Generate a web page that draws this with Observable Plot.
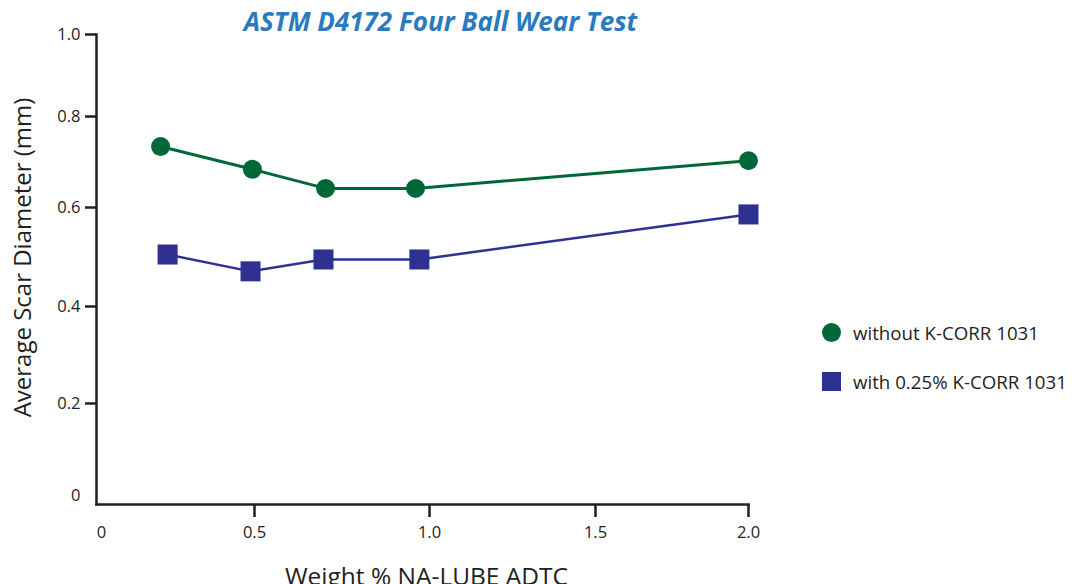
<!DOCTYPE html>
<html>
<head>
<meta charset="utf-8">
<script src="https://cdn.jsdelivr.net/npm/d3@7"></script>
<script src="https://cdn.jsdelivr.net/npm/@observablehq/plot@0.6"></script>
<style>
  html, body { margin: 0; padding: 0; background: #fff; }
  #wrap { position: relative; width: 1077px; height: 584px; overflow: hidden; font-family: "Open Sans", sans-serif; }
  #legend { position: absolute; left: 822px; top: 319px; color: #231f20; font-size: 18.7px; }
  .item { display: flex; align-items: center; height: 26px; margin-bottom: 23px; }
  .sw { width: 19px; height: 19px; margin-right: 12px; flex: none; }
</style>
</head>
<body>
<div id="wrap"></div>
<script>
const title = "ASTM D4172 Four Ball Wear Test";
const xLabel = "Weight % NA-LUBE ADTC";
const yLabel = "Average Scar Diameter (mm)";
const seriesNames = ["without K-CORR 1031", "with 0.25% K-CORR 1031"];
const seriesColors = ["#006838", "#2e3192"];

const xWithout = [0.193, 0.493, 0.703, 0.960, 2.0];
const yWithout = [0.734, 0.684, 0.642, 0.642, 0.703];
const xWith = [0.216, 0.487, 0.697, 0.971, 2.0];
const yWith = [0.505, 0.471, 0.495, 0.495, 0.586];

const xTicks = [0, 0.5, 1.0, 1.5, 2.0];
const yTicks = [0, 0.2, 0.4, 0.6, 0.8, 1.0];
const fmt = d => Math.abs(d) < 1e-9 ? "0" : d.toFixed(1);

const without = xWithout.map((x, i) => ({x, y: yWithout[i]}));
const withK = xWith.map((x, i) => ({x, y: yWith[i]}));

const ink = "#231f20";

// The printed axes are slightly uneven; these piecewise maps reproduce the tick spacing.
const xWarp = d3.scaleLinear().domain(xTicks).range([0, 0.473, 1.014, 1.527, 2.0]);
const yWarp = d3.scaleLinear().domain(yTicks).range([0, 0.1996, 0.41, 0.6247, 0.8221, 1.0]);
const X = d => xWarp(d.x);
const Y = d => yWarp(d.y);

const chart = Plot.plot({
  width: 1077,
  height: 584,
  marginLeft: 96,
  marginRight: 329,
  marginTop: 34,
  marginBottom: 80,
  style: {fontFamily: "Open Sans, sans-serif", background: "#fff"},
  x: {domain: [0, 2], range: [101, 748]},
  y: {domain: [0, 1], range: [495, 34]},
  marks: [
    Plot.frame({anchor: "left", stroke: ink, strokeWidth: 2.5}),
    Plot.frame({anchor: "bottom", stroke: ink, strokeWidth: 2.5}),
    Plot.axisY(yTicks.slice(1).map(yWarp), {tickSize: 11, tickFormat: () => "", stroke: ink, strokeWidth: 2.5, label: null}),
    Plot.axisY(yTicks.map(yWarp), {tickSize: 0, tickPadding: 16, tickFormat: v => fmt(yWarp.invert(v)), fontSize: 16.5, fill: ink, label: null}),
    Plot.axisX(xTicks.slice(1).map(xWarp), {tickSize: 13, tickFormat: () => "", stroke: ink, strokeWidth: 2.5, label: null}),
    Plot.axisX(xTicks.map(xWarp), {tickSize: 0, tickPadding: 22, tickFormat: v => fmt(xWarp.invert(v)), fontSize: 16.5, fill: ink, label: null}),
    Plot.text([yLabel], {frameAnchor: "left", textAnchor: "middle", rotate: -90, dx: -73, dy: -12, fontSize: 24, fill: ink}),
    Plot.text([xLabel], {frameAnchor: "bottom", dx: 4, dy: 63, lineAnchor: "top", fontSize: 24.5, fill: ink}),
    Plot.text([title], {frameAnchor: "top", dx: 18, dy: -12, lineAnchor: "middle", fontSize: 26, fontWeight: "bold", fontStyle: "italic", fill: "#2a7abf"}),
    Plot.line(without, {x: X, y: Y, stroke: seriesColors[0], strokeWidth: 3}),
    Plot.line(withK, {x: X, y: Y, stroke: seriesColors[1], strokeWidth: 2.5}),
    Plot.dot(without, {x: X, y: Y, r: 9.5, fill: seriesColors[0], symbol: "circle"}),
    Plot.dot(withK, {x: X, y: Y, r: 11.3, fill: seriesColors[1], symbol: "square"})
  ]
});

const wrap = document.getElementById("wrap");
wrap.appendChild(chart);

const legend = document.createElement("div");
legend.id = "legend";
seriesNames.forEach((name, i) => {
  const item = document.createElement("div");
  item.className = "item";
  const sw = document.createElement("span");
  sw.className = "sw";
  sw.style.background = seriesColors[i];
  if (i === 0) sw.style.borderRadius = "50%";
  const t = document.createElement("span");
  t.textContent = name;
  item.appendChild(sw);
  item.appendChild(t);
  legend.appendChild(item);
});
wrap.appendChild(legend);
</script>
</body>
</html>
